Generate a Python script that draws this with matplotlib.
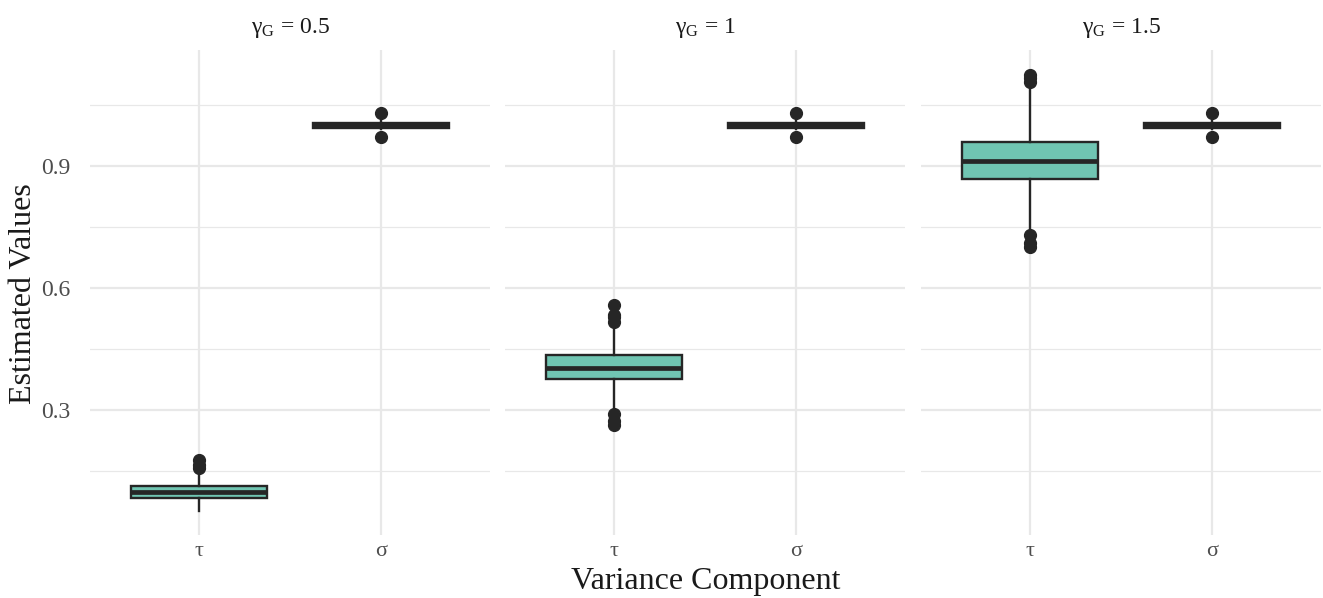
import matplotlib.pyplot as plt

plt.rcParams['font.family'] = ['Liberation Serif', 'DejaVu Serif']
plt.rcParams['mathtext.fontset'] = 'custom'
plt.rcParams['mathtext.rm'] = 'Liberation Serif'
plt.rcParams['mathtext.it'] = 'Liberation Serif:italic'

# --- data ---
panels = ["0.5", "1", "1.5"]
components = ["τ", "σ"]

# tau: per panel [whislo, q1, med, q3, whishi]
tau_stats = [
    [0.052, 0.084, 0.098, 0.113, 0.140],
    [0.305, 0.376, 0.403, 0.435, 0.505],
    [0.738, 0.867, 0.912, 0.960, 1.092],
]
tau_fliers = [
    [0.157, 0.165, 0.177],
    [0.263, 0.272, 0.290, 0.517, 0.528, 0.534, 0.558],
    [0.702, 0.710, 0.730, 1.107, 1.115, 1.124],
]
sigma_stats = [
    [0.990, 0.994, 1.000, 1.006, 1.010],
    [0.990, 0.994, 1.000, 1.006, 1.010],
    [0.990, 0.994, 1.000, 1.006, 1.010],
]
sigma_fliers = [
    [0.972, 1.031],
    [0.972, 1.031],
    [0.972, 1.031],
]

FILL = "#70C5B2"
DARK = "#262626"
GRID = "#E8E8E8"

W, H = 1323, 598
fig = plt.figure(figsize=(W / 100, H / 100), dpi=100)
lefts = [90, 505, 921]
pw = 400
top, bottom = 50, 535


def mkstat(s, fl, label):
    return dict(whislo=s[0], q1=s[1], med=s[2], q3=s[3], whishi=s[4],
                fliers=fl, label=label)


for i, p in enumerate(panels):
    ax = fig.add_axes([lefts[i] / W, 1 - bottom / H, pw / W, (bottom - top) / H])
    stats = [mkstat(tau_stats[i], tau_fliers[i], components[0]),
             mkstat(sigma_stats[i], sigma_fliers[i], components[1])]
    ax.bxp(stats, positions=[1, 2], widths=0.75, patch_artist=True,
           boxprops=dict(facecolor=FILL, edgecolor=DARK, linewidth=1.7),
           medianprops=dict(color=DARK, linewidth=3.4, solid_capstyle='butt'),
           whiskerprops=dict(color=DARK, linewidth=1.7),
           capprops=dict(linewidth=0),
           flierprops=dict(marker='o', markerfacecolor=DARK, markeredgecolor=DARK,
                           markersize=8.5),
           zorder=3)
    ax.set_xlim(0.4, 2.6)
    ax.set_ylim(-0.007, 1.185)
    ax.set_yticks([0.3, 0.6, 0.9])
    ax.set_yticks([0.15, 0.45, 0.75, 1.05], minor=True)
    ax.grid(True, which='major', color=GRID, linewidth=1.6, zorder=0)
    ax.grid(True, which='minor', axis='y', color=GRID, linewidth=0.9, zorder=0)
    ax.set_axisbelow(True)
    for sp in ax.spines.values():
        sp.set_visible(False)
    ax.tick_params(length=0, which='both', labelcolor="#4D4D4D")
    ax.tick_params(axis='x', labelsize=16, pad=5)
    ax.tick_params(axis='y', labelsize=17, pad=14)
    ax.set_xticklabels(components)
    if i == 0:
        ax.set_yticklabels(["0.3", "0.6", "0.9"])
    else:
        ax.set_yticklabels([])
    ax.set_title(r"γ$_{\mathrm{G}}$ = " + p, fontsize=17, color="#1A1A1A", pad=12)

fig.text(24 / W, 1 - 294 / H, "Estimated Values", rotation=90, fontsize=23,
         ha='center', va='center', color="#1A1A1A")
fig.text(706 / W, 1 - 582 / H, "Variance Component", fontsize=23,
         ha='center', va='center', color="#1A1A1A")

fig.savefig("out.png", dpi=100)
